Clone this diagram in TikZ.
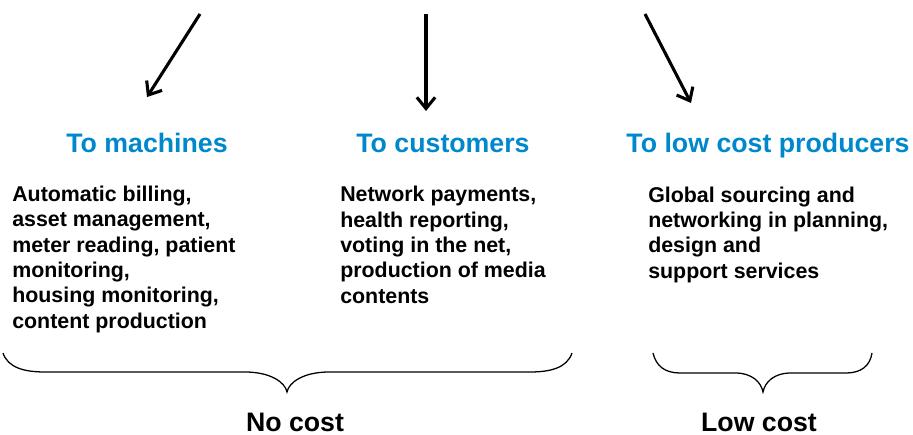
\documentclass[tikz,border=0pt]{standalone}
\usepackage{fontspec}
\setmainfont{Liberation Sans}
\usetikzlibrary{arrows.meta}
\definecolor{headblue}{RGB}{0,136,204}

\begin{document}
\begin{tikzpicture}[x=0.025cm, y=-0.025cm,
  head/.style={font=\fontsize{19}{22}\selectfont\bfseries, text=headblue, inner sep=0pt, anchor=base},
  body/.style={font=\fontsize{15.2}{18}\selectfont\bfseries, align=left, inner sep=0pt, anchor=base west},
  cost/.style={font=\fontsize{19}{22}\selectfont\bfseries, inner sep=0pt, text depth=0pt, anchor=base},
  bigarrow/.style={-{Straight Barb[length=8pt,width=13pt]}, line width=2.2pt},
  brace/.style={draw, line width=0.9pt}]
\useasboundingbox (0,0) rectangle (913,434);
% arrows on top
\coordinate (a1s) at (200,14);
\coordinate (a1e) at (147,97);
\coordinate (a2s) at (426,14);
\coordinate (a2e) at (426,111);
\coordinate (a3s) at (645,14);
\coordinate (a3e) at (691,103);
\draw[bigarrow] (a1s) -- (a1e);
\draw[bigarrow] (a2s) -- (a2e);
\draw[bigarrow] (a3s) -- (a3e);
% headings
\node[head] (mach) at (147,152) {To machines};
\node[head] (cust) at (443,152) {To customers};
\node[head] (prod) at (768,152) {To low cost producers};
% texts (placed at the baseline of the last line)
\node[body] (machtxt) at (12,328) {Automatic billing,\\asset management,\\meter reading, patient\\monitoring,\\housing monitoring,\\content production};
\node[body] (custtxt) at (340,303) {Network payments,\\health reporting,\\voting in the net,\\production of media\\contents};
\node[body] (prodtxt) at (648,278) {Global sourcing and\\networking in planning,\\design and\\support services};
% braces
\draw[brace] (3,353) .. controls (8,368) and (25,372) .. (45,372) -- (245,372)
  .. controls (270,372) and (285,382) .. (287,392)
  .. controls (289,382) and (304,372) .. (329,372) -- (530,372)
  .. controls (550,372) and (567,368) .. (572,353);
\draw[brace] (653,353) .. controls (656,366) and (665,373) .. (680,373) -- (735,373)
  .. controls (752,373) and (761,382) .. (763,392)
  .. controls (765,382) and (774,373) .. (791,373) -- (846,373)
  .. controls (861,373) and (870,366) .. (872,353);
\node[cost] (nocost) at (295,431) {No cost};
\node[cost] (lowcost) at (759,431) {Low cost};
\end{tikzpicture}
\end{document}
